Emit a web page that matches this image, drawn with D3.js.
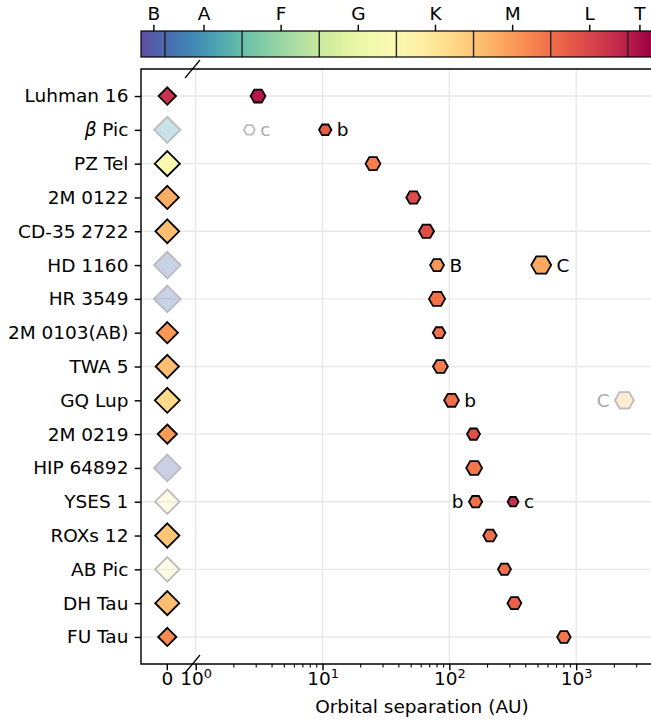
<!DOCTYPE html>
<html>
<head>
<meta charset="utf-8">
<script src="https://cdn.jsdelivr.net/npm/d3@7"></script>
<style>
body { margin: 0; background: #fff; }
svg { display: block; font-family: "DejaVu Sans", sans-serif; }
</style>
</head>
<body>
<div id="chart"></div>
<script>
// spectral type as a number: B=10, A=20, F=30, G=40, K=50, M=60, L=70, T=80
var systems = ["Luhman 16", "β Pic", "PZ Tel", "2M 0122", "CD-35 2722", "HD 1160", "HR 3549",
    "2M 0103(AB)", "TWA 5", "GQ Lup", "2M 0219", "HIP 64892", "YSES 1", "ROXs 12", "AB Pic",
    "DH Tau", "FU Tau"];
var hostSpT = [77.5, 26, 49, 63, 61, 20, 20, 65.5, 61, 57, 65, 19, 53, 60, 51, 61, 67];
var hostMass = [0.034, 1.8, 1.14, 0.46, 0.6, 2.2, 2.3, 0.19, 0.5, 1.05, 0.075, 2.35, 0.85, 0.75, 0.84, 0.7, 0.047];
var hostFaint = [0, 1, 0, 0, 0, 1, 1, 0, 0, 0, 0, 1, 1, 0, 1, 0, 0];

// companions
var compHost = ["Luhman 16", "β Pic", "β Pic", "PZ Tel", "2M 0122", "CD-35 2722", "HD 1160", "HD 1160",
    "HR 3549", "2M 0103(AB)", "TWA 5", "GQ Lup", "GQ Lup", "2M 0219", "HIP 64892", "YSES 1", "YSES 1",
    "ROXs 12", "AB Pic", "DH Tau", "FU Tau"];
var compName = ["B", "c", "b", "B", "b", "b", "B", "C", "B", "b", "B", "b", "C", "b", "B", "b", "c", "b", "b", "b", "b"];
var compSep = [3.1, 2.65, 10.5, 25, 52, 66, 80, 530, 80, 83, 85, 104, 2400, 155, 157, 161, 318, 209, 272, 326, 800];
var compSpT = [80.5, null, 72, 68, 74.5, 74, 65.5, 63.5, 69.5, 69.5, 68.5, 70, 61, 74, 69, 69.5, 77.5, 70, 70, 71.5, 69];
var compMass = [30, 6, 11, 30, 23, 34, 20, 227, 51, 12, 30, 30, 152, 14, 45, 15, 6, 17, 14, 20, 17];
var compFaint = [0, 1, 0, 0, 0, 0, 0, 0, 0, 0, 0, 0, 1, 0, 0, 0, 0, 0, 0, 0, 0];

var classNames = ["B", "A", "F", "G", "K", "M", "L", "T"];
var classTicks = [18.5, 25, 35, 45, 55, 65, 75, 81.5];
var classEdges = [20, 30, 40, 50, 60, 70, 80];

var xMajor = [1, 10, 100, 1000];

var W = 651, H = 727;
var mL = 141, mR = 703, mT = 69, mB = 664;
var fs = 18.5;
var leftLabels = {"YSES 1 b": true, "GQ Lup C": true};

var svg = d3.select("#chart").append("svg")
    .attr("width", W)
    .attr("height", H);

var x = d3.scaleLog().domain([1, 10000]).range([195.7, mR]);
var x0 = 167.3;
var y = d3.scalePoint().domain(systems).range([mT, mB]).padding(0.8);
var spt = d3.scaleLinear().domain([16.9, 83]).range([mL, 651]);
var color = function(v) {
    if (v === null) return "#ffffff";
    var t = Math.max(0, Math.min(1, (v - 16.9) / (83 - 16.9)));
    return d3.interpolateSpectral(1 - t);
};
var hostSize = d3.scaleLog().domain([0.03, 1.8]).range([19, 28]);
var compSize = d3.scaleLog().domain([6, 227]).range([12.7, 21.7]);

// ---- colorbar ----
var cbTop = 31, cbH = 26;
var grad = svg.append("defs").append("linearGradient")
    .attr("id", "cb").attr("x1", "0%").attr("x2", "100%");
d3.range(0, 1.0001, 0.02).forEach(function(f) {
    grad.append("stop").attr("offset", (f * 100) + "%")
        .attr("stop-color", color(spt.invert(mL + f * (651 - mL))));
});
svg.append("rect").attr("x", mL).attr("y", cbTop).attr("width", 651 - mL).attr("height", cbH)
    .attr("fill", "url(#cb)");
svg.selectAll(".cbedge").data(classEdges).enter().append("line")
    .attr("x1", function(d) { return spt(d); }).attr("x2", function(d) { return spt(d); })
    .attr("y1", cbTop).attr("y2", cbTop + cbH)
    .attr("stroke", "#222").attr("stroke-width", 1.4);
svg.append("rect").attr("x", mL).attr("y", cbTop).attr("width", 651 - mL + 2).attr("height", cbH)
    .attr("fill", "none").attr("stroke", "#000").attr("stroke-width", 1.2);

var cbAxis = svg.append("g").attr("transform", "translate(0," + cbTop + ")")
    .call(d3.axisTop(spt).tickValues(classTicks).tickSize(6.3).tickPadding(5)
        .tickFormat(function(d, i) { return classNames[i]; }));
cbAxis.select(".domain").remove();
cbAxis.attr("font-size", fs).attr("font-family", "DejaVu Sans");
cbAxis.selectAll("line").attr("stroke-width", 1.44);
cbAxis.selectAll("text").attr("fill", "#000");

// ---- grid ----
var plot = svg.append("g");
plot.selectAll(".hgrid").data(systems.filter(function(d, i) { return i % 2 === 0; }))
    .enter().append("line")
    .attr("x1", mL).attr("x2", mR)
    .attr("y1", function(d) { return y(d); }).attr("y2", function(d) { return y(d); })
    .attr("stroke", "#e8e8e8").attr("stroke-width", 1.4);
plot.selectAll(".vgrid").data(xMajor).enter().append("line")
    .attr("x1", function(d) { return x(d); }).attr("x2", function(d) { return x(d); })
    .attr("y1", mT).attr("y2", mB)
    .attr("stroke", "#e8e8e8").attr("stroke-width", 1.4);

// ---- axes ----
var yAxis = svg.append("g").attr("transform", "translate(" + mL + ",0)")
    .call(d3.axisLeft(y).tickSize(6.3).tickPadding(6.3));
yAxis.select(".domain").remove();
yAxis.attr("font-size", fs).attr("font-family", "DejaVu Sans");
yAxis.selectAll("line").attr("stroke-width", 1.44);
yAxis.selectAll("text").attr("fill", "#000")
    .each(function(d) {
        if (d.indexOf("β") === 0) {
            var t = d3.select(this).text("");
            t.append("tspan").attr("font-style", "italic").text("β");
            t.append("tspan").text(d.slice(1));
        }
    });

var minor = [];
xMajor.forEach(function(m) {
    for (var k = 2; k <= 9; k++) minor.push(m * k);
});

var xAxis = svg.append("g").attr("transform", "translate(0," + mB + ")");
xAxis.call(d3.axisBottom(x).tickValues(xMajor).tickSize(6.3).tickPadding(6.3).tickFormat(function() { return ""; }));
xAxis.select(".domain").remove();
xAxis.attr("font-size", fs).attr("font-family", "DejaVu Sans");
xAxis.selectAll("line").attr("stroke-width", 1.44);
xAxis.selectAll(".tick text").attr("fill", "#000")
    .attr("dy", null).attr("y", 21)
    .each(function(d) {
        var t = d3.select(this);
        t.append("tspan").text("10");
        t.append("tspan").attr("font-size", fs * 0.7).attr("dy", -7.5).text(Math.round(Math.log10(d)));
    });
xAxis.selectAll(".minor").data(minor).enter().append("line")
    .attr("x1", function(d) { return x(d); }).attr("x2", function(d) { return x(d); })
    .attr("y1", 0).attr("y2", 3.6)
    .attr("stroke", "#000").attr("stroke-width", 1.08);
xAxis.append("line").attr("x1", x0).attr("x2", x0).attr("y1", 0).attr("y2", 6.3)
    .attr("stroke", "#000").attr("stroke-width", 1.44);
xAxis.append("text").attr("x", x0).attr("y", 21).attr("text-anchor", "middle")
    .attr("fill", "#000").text("0");

svg.append("text").attr("x", (mL + mR) / 2).attr("y", 713).attr("text-anchor", "middle")
    .attr("font-size", fs).attr("font-family", "DejaVu Sans").text("Orbital separation (AU)");

// spines
svg.append("path")
    .attr("d", "M" + mR + "," + mT + "H" + mL + "V" + mB + "H" + mR)
    .attr("fill", "none").attr("stroke", "#000").attr("stroke-width", 1.44);

// axis break marks
[mT, mB].forEach(function(yy) {
    svg.append("line").attr("x1", 185).attr("y1", yy + 9).attr("x2", 200).attr("y2", yy - 9)
        .attr("stroke", "#000").attr("stroke-width", 1.2);
});

// ---- markers ----
var polygon = function(pts) { return "M" + pts.map(function(p) { return p.join(","); }).join("L") + "Z"; };
var diamond = function(w) {
    var r = w / 2 - 0.9;
    return polygon([[0, -r], [r, 0], [0, r], [-r, 0]]);
};
var hexagon = function(w) {
    var r = w / 2 - 0.9;
    return polygon(d3.range(6).map(function(i) {
        var a = i * Math.PI / 3;
        return [r * Math.cos(a), r * Math.sin(a)];
    }));
};

var hosts = systems.map(function(s, i) {
    return {name: s, spt: hostSpT[i], mass: hostMass[i], faint: hostFaint[i]};
});
svg.append("g").selectAll("path").data(hosts).enter().append("path")
    .attr("transform", function(d) { return "translate(" + x0 + "," + y(d.name) + ")"; })
    .attr("d", function(d) { return diamond(hostSize(d.mass)); })
    .attr("fill", function(d) { return color(d.spt); })
    .attr("fill-opacity", function(d) { return d.faint ? 0.3 : 1; })
    .attr("stroke", function(d) { return d.faint ? "#bbbbbb" : "#000"; })
    .attr("stroke-width", 1.8);

var comps = compHost.map(function(h, i) {
    return {host: h, name: compName[i], sep: compSep[i], spt: compSpT[i], mass: compMass[i], faint: compFaint[i]};
});
var nPer = d3.rollup(comps, function(v) { return v.length; }, function(d) { return d.host; });

var cg = svg.append("g").selectAll("g").data(comps).enter().append("g")
    .attr("transform", function(d) { return "translate(" + x(d.sep) + "," + y(d.host) + ")"; });
cg.append("path")
    .attr("d", function(d) { return hexagon(compSize(d.mass)); })
    .attr("fill", function(d) { return color(d.spt); })
    .attr("fill-opacity", function(d) { return d.faint ? 0.3 : 1; })
    .attr("stroke", function(d) { return d.faint ? "#bbbbbb" : "#000"; })
    .attr("stroke-width", 1.8);
cg.filter(function(d) { return nPer.get(d.host) > 1; }).append("text")
    .attr("font-size", fs)
    .attr("font-family", "DejaVu Sans")
    .attr("dy", "0.35em")
    .attr("fill", function(d) { return d.faint ? "#aaaaaa" : "#000"; })
    .attr("text-anchor", function(d) { return leftLabels[d.host + " " + d.name] ? "end" : "start"; })
    .attr("x", function(d) {
        var off = compSize(d.mass) / 2 + 4.5;
        return leftLabels[d.host + " " + d.name] ? -off : off;
    })
    .text(function(d) { return d.name; });
</script>
</body>
</html>
